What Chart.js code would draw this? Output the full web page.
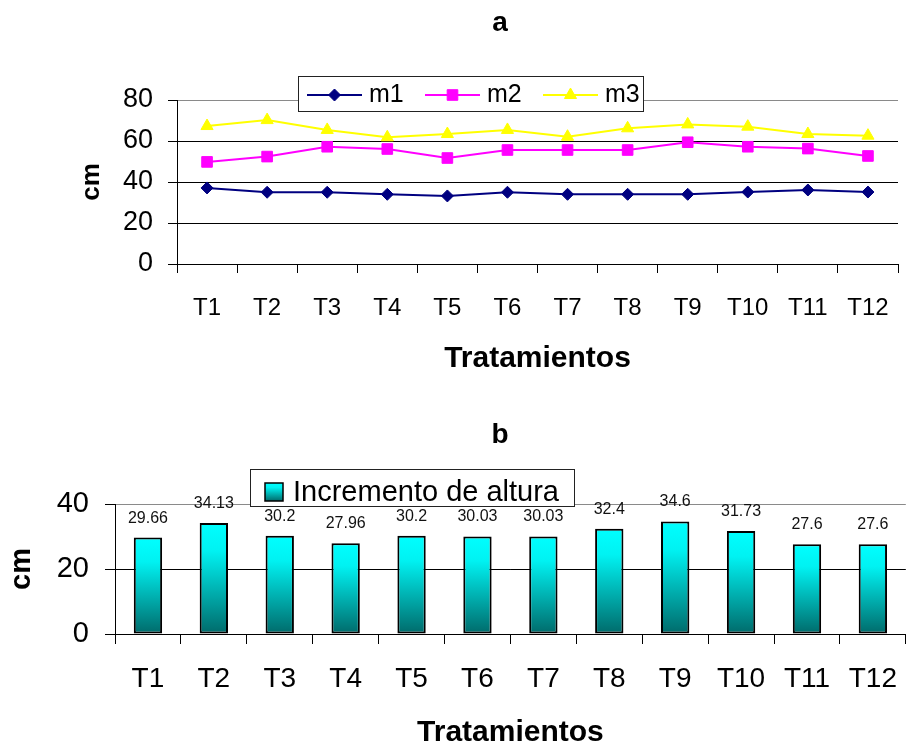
<!DOCTYPE html>
<html>
<head>
<meta charset="utf-8">
<title>Altura por tratamiento</title>
<script src="https://cdn.jsdelivr.net/npm/chart.js@4/dist/chart.umd.min.js"></script>
<style>
  html, body { margin: 0; padding: 0; background: #fff; width: 915px; height: 746px; overflow: hidden; }
  canvas { position: absolute; left: 0; display: block; }
  #chartA { top: 0; }
  #chartB { top: 390px; }
</style>
</head>
<body>
<canvas id="chartA" width="915" height="390"></canvas>
<canvas id="chartB" width="915" height="356"></canvas>
<script>
// Treatments on the x axis of both panels
const treatments = ['T1', 'T2', 'T3', 'T4', 'T5', 'T6', 'T7', 'T8', 'T9', 'T10', 'T11', 'T12'];

// Panel a: plant height (cm) at three measurements
const m1 = [37.1, 35.0, 35.0, 34.0, 33.2, 35.0, 34.0, 34.0, 34.0, 35.1, 36.1, 35.1];
const m2 = [49.8, 52.4, 57.2, 56.1, 51.7, 55.6, 55.6, 55.6, 59.4, 57.2, 56.3, 52.7];
const m3 = [67.3, 70.2, 65.4, 61.8, 63.4, 65.4, 62.1, 66.2, 68.1, 67.0, 63.4, 62.6];

// Panel b: height increment (cm)
const heightIncrement = [29.66, 34.13, 30.2, 27.96, 30.2, 30.03, 30.03, 32.4, 34.6, 31.73, 27.6, 27.6];

// Value-axis tick values
const ticksA = [0, 20, 40, 60, 80];
const ticksB = [0, 20, 40];

const FONT = "'Liberation Sans', Arial, Helvetica, sans-serif";
Chart.defaults.font.family = FONT;
Chart.defaults.color = '#000';

// Bold panel letter drawn at a fixed spot above the plot
const panelTitle = {
  id: 'panelTitle',
  afterDraw(chart, args, o) {
    const ctx = chart.ctx;
    ctx.save();
    ctx.font = `bold ${o.size}px ${FONT}`;
    ctx.fillStyle = '#000';
    ctx.textAlign = 'center';
    ctx.textBaseline = 'middle';
    ctx.fillText(o.text, o.x, o.y);
    ctx.restore();
  }
};

// Boxed legend that sits over the top edge of the plot (line panel)
const lineLegend = {
  id: 'lineLegend',
  afterDatasetsDraw(chart, args, o) {
    const ctx = chart.ctx;
    ctx.save();
    ctx.fillStyle = '#fff';
    ctx.fillRect(o.x, o.y, o.w, o.h);
    ctx.strokeStyle = '#222';
    ctx.lineWidth = 1;
    ctx.strokeRect(o.x + 0.5, o.y + 0.5, o.w - 1, o.h - 1);
    const cy = o.y + o.h / 2 + 1;
    chart.data.datasets.forEach((ds, i) => {
      const x0 = o.x + 9 + i * o.step;
      ctx.strokeStyle = ds.borderColor;
      ctx.lineWidth = ds.borderWidth;
      ctx.beginPath();
      ctx.moveTo(x0, cy);
      ctx.lineTo(x0 + o.lineLen, cy);
      ctx.stroke();
      ctx.fillStyle = ds.pointBackgroundColor;
      ctx.strokeStyle = ds.pointBorderColor;
      ctx.lineWidth = ds.pointBorderWidth;
      Chart.helpers.drawPoint(ctx, { pointStyle: ds.pointStyle, radius: ds.pointRadius, rotation: 0, borderWidth: ds.pointBorderWidth }, x0 + o.lineLen / 2, cy);
      ctx.fillStyle = '#000';
      ctx.font = `${o.size}px ${FONT}`;
      ctx.textAlign = 'left';
      ctx.textBaseline = 'middle';
      ctx.fillText(ds.label, x0 + o.lineLen + 7, cy);
    });
    ctx.restore();
  }
};

function tealGradient(ctx, top, bottom) {
  const g = ctx.createLinearGradient(0, top, 0, bottom);
  g.addColorStop(0, '#00ffff');
  g.addColorStop(0.25, '#00f2f2');
  g.addColorStop(1, '#006a6a');
  return g;
}

// Boxed legend plus value labels above the bars (bar panel)
const barExtras = {
  id: 'barExtras',
  afterDatasetsDraw(chart, args, o) {
    const ctx = chart.ctx;
    const ds = chart.data.datasets[0];
    ctx.save();
    // legend box
    ctx.fillStyle = '#fff';
    ctx.fillRect(o.x, o.y, o.w, o.h);
    ctx.strokeStyle = '#222';
    ctx.lineWidth = 1;
    ctx.strokeRect(o.x + 0.5, o.y + 0.5, o.w - 1, o.h - 1);
    const sx = o.x + 15, sy = o.y + 14, ss = 18;
    ctx.fillStyle = tealGradient(ctx, sy, sy + ss);
    ctx.fillRect(sx, sy, ss, ss);
    ctx.strokeStyle = '#000';
    ctx.lineWidth = 1.5;
    ctx.strokeRect(sx, sy, ss, ss);
    ctx.fillStyle = '#000';
    ctx.font = `${o.size}px ${FONT}`;
    ctx.textAlign = 'left';
    ctx.textBaseline = 'alphabetic';
    ctx.fillText(ds.label, sx + ss + 10, o.y + 32);
    // value labels
    const meta = chart.getDatasetMeta(0);
    ctx.font = `${o.labelSize}px ${FONT}`;
    ctx.fillStyle = '#111';
    ctx.textAlign = 'center';
    ctx.textBaseline = 'middle';
    meta.data.forEach((bar, i) => {
      ctx.fillText(String(ds.data[i]), bar.x, bar.y - o.labelGap);
    });
    ctx.restore();
  }
};

// ---------- Panel a ----------
new Chart(document.getElementById('chartA'), {
  type: 'line',
  data: {
    labels: treatments,
    datasets: [
      { label: 'm1', data: m1, borderColor: '#000080', pointBackgroundColor: '#000080', pointBorderColor: '#000080',
        pointStyle: 'rectRot', pointRadius: 6, pointBorderWidth: 1, borderWidth: 2 },
      { label: 'm2', data: m2, borderColor: '#ff00ff', pointBackgroundColor: '#ff00ff', pointBorderColor: '#ff00ff',
        pointStyle: 'rect', pointRadius: 7.5, pointBorderWidth: 1, borderWidth: 2 },
      { label: 'm3', data: m3, borderColor: '#ffff00', pointBackgroundColor: '#ffff00', pointBorderColor: '#ffff00',
        pointStyle: 'triangle', pointRadius: 7, pointBorderWidth: 1, borderWidth: 2 }
    ]
  },
  options: {
    responsive: false,
    devicePixelRatio: 1,
    animation: false,
    layout: { padding: { top: 100, right: 17, left: 0, bottom: 0 } },
    elements: { line: { tension: 0 } },
    plugins: {
      legend: { display: false },
      tooltip: { enabled: false },
      panelTitle: { text: 'a', x: 500, y: 23, size: 28 },
      lineLegend: { x: 298, y: 76, w: 346, h: 36, step: 118, lineLen: 55, size: 25 }
    },
    scales: {
      x: {
        offset: true,
        grid: { drawOnChartArea: false, drawTicks: true, tickLength: 9, offset: true, color: '#000', tickColor: '#000' },
        border: { color: '#000', width: 1 },
        ticks: { font: { size: 24 }, color: '#000', padding: 21, maxRotation: 0, autoSkip: false },
        title: { display: true, text: 'Tratamientos', color: '#000', font: { size: 30, weight: 'bold' }, padding: { top: 0, bottom: 13 } },
        afterFit(s) { s.height = 390 - 264; }
      },
      y: {
        min: 0, max: 80,
        afterBuildTicks(s) { s.ticks = ticksA.map(v => ({ value: v })); },
        grid: { color: c => (c.tick && c.tick.value === 80 ? '#8a8a8a' : '#000'), tickColor: '#000', tickLength: 9 },
        border: { color: '#000', width: 1 },
        ticks: { font: { size: 27 }, color: '#000', padding: 15 },
        title: { display: true, text: 'cm', color: '#000', font: { size: 26, weight: 'bold' }, padding: { top: 76, bottom: 0 } },
        afterFit(s) { s.width = 177; }
      }
    }
  },
  plugins: [panelTitle, lineLegend]
});

// ---------- Panel b ----------
new Chart(document.getElementById('chartB'), {
  type: 'bar',
  data: {
    labels: treatments,
    datasets: [{
      label: 'Incremento de altura',
      data: heightIncrement,
      backgroundColor(c) {
        const chart = c.chart;
        if (!chart.chartArea || c.type !== 'data') return '#00cccc';
        const ys = chart.scales.y;
        return tealGradient(chart.ctx, ys.getPixelForValue(c.raw), ys.getPixelForValue(0));
      },
      borderColor: '#000',
      borderWidth: 2,
      borderSkipped: false,
      categoryPercentage: 1,
      barPercentage: 0.43
    }]
  },
  options: {
    responsive: false,
    devicePixelRatio: 1,
    animation: false,
    layout: { padding: { top: 114, right: 0, left: 0, bottom: 0 } },
    plugins: {
      legend: { display: false },
      tooltip: { enabled: false },
      panelTitle: { text: 'b', x: 500, y: 45, size: 28 },
      barExtras: { x: 250, y: 79, w: 325, h: 38, size: 29, labelSize: 16, labelGap: 19.5 }
    },
    scales: {
      x: {
        grid: { drawOnChartArea: false, drawTicks: true, tickLength: 10, offset: true, color: '#000', tickColor: '#000' },
        border: { color: '#000', width: 1 },
        ticks: { font: { size: 28 }, color: '#000', padding: 18, maxRotation: 0, autoSkip: false },
        title: { display: true, text: 'Tratamientos', color: '#000', font: { size: 30, weight: 'bold', lineHeight: 0.9 }, padding: { top: 0, bottom: 0 } },
        afterFit(s) { s.height = 356 - 244; }
      },
      y: {
        min: 0, max: 40,
        afterBuildTicks(s) { s.ticks = ticksB.map(v => ({ value: v })); },
        grid: { color: c => (c.tick && c.tick.value === 40 ? '#8a8a8a' : '#000'), tickColor: '#000', tickLength: 10 },
        border: { color: '#000', width: 1 },
        ticks: { font: { size: 29 }, color: '#000', padding: 16 },
        title: { display: true, text: 'cm', color: '#000', font: { size: 29, weight: 'bold' }, padding: { top: 4.6, bottom: 0 } },
        afterFit(s) { s.width = 115; }
      }
    }
  },
  plugins: [panelTitle, barExtras]
});
</script>
</body>
</html>
